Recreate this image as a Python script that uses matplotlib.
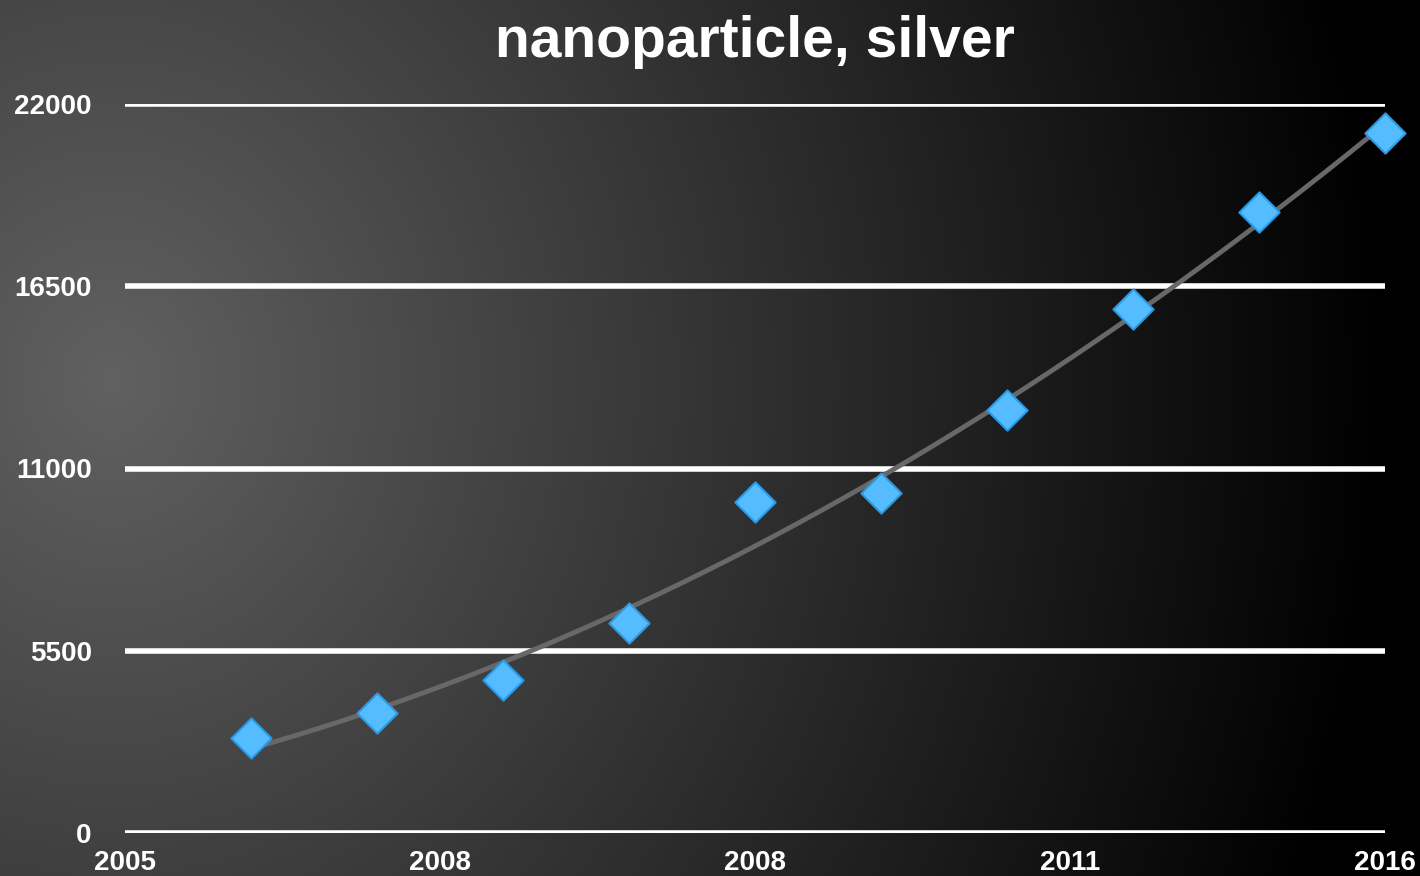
import numpy as np
import matplotlib.pyplot as plt

# data
years = [2006, 2007, 2008, 2009, 2010, 2011, 2012, 2013, 2014, 2015]
counts = [2870, 3620, 4620, 6340, 9990, 10260, 12760, 15810, 18740, 21120]
y_ticks = [0, 5500, 11000, 16500, 22000]
x_ticks = [2005, 2007.5, 2010, 2012.5, 2015]
x_labels = ["2005", "2008", "2008", "2011", "2016"]

plt.rcParams['font.family'] = ['Liberation Sans', 'DejaVu Sans']

fig = plt.figure(figsize=(14.2, 8.76), dpi=100)

# background: radial grey-to-black gradient
bg = fig.add_axes([0, 0, 1, 1], zorder=0)
gx, gy = np.meshgrid(np.linspace(0, 1420, 400), np.linspace(0, 876, 250))
d = np.sqrt(((gx - 110) / 1350) ** 2 + ((gy - 380) / 1500) ** 2)
shade = np.clip(0.38 - 0.40 * d, 0.0, 1)
bg.imshow(np.dstack([shade, shade, shade]), extent=[0, 1420, 876, 0], aspect='auto')
bg.set_axis_off()

ax = fig.add_axes([125 / 1420, 1 - 833 / 876, 1260 / 1420, 729 / 876], zorder=1)
ax.patch.set_alpha(0)
ax.set_xlim(2005, 2015)
ax.set_ylim(0, 22000)
for s in ax.spines.values():
    s.set_visible(False)
ax.set_yticks(y_ticks)
ax.set_xticks(x_ticks)
ax.set_xticklabels(x_labels)
ax.tick_params(length=0, colors='white', labelsize=20)
for lab in ax.get_yticklabels() + ax.get_xticklabels():
    lab.set_fontweight('bold')
ax.tick_params(axis='y', pad=24)
ax.tick_params(axis='x', pad=12)
ax.grid(axis='y', color='white', linewidth=4)
ax.set_axisbelow(True)

# polynomial trend line
coef = np.polyfit(years, counts, 2)
tx = np.linspace(years[0], years[-1], 200)
ax.plot(tx, np.polyval(coef, tx), color='#686868', linewidth=3.5, zorder=2)

ax.scatter(years, counts, marker='D', s=420, color='#55bdff',
           edgecolors='#2a9ae6', linewidths=1.5, zorder=3, clip_on=False)

fig.text(755 / 1420, 0.952, "nanoparticle, silver", color='white', fontsize=41,
         fontweight='bold', ha='center', va='center')

fig.savefig("out.png", dpi=100)
